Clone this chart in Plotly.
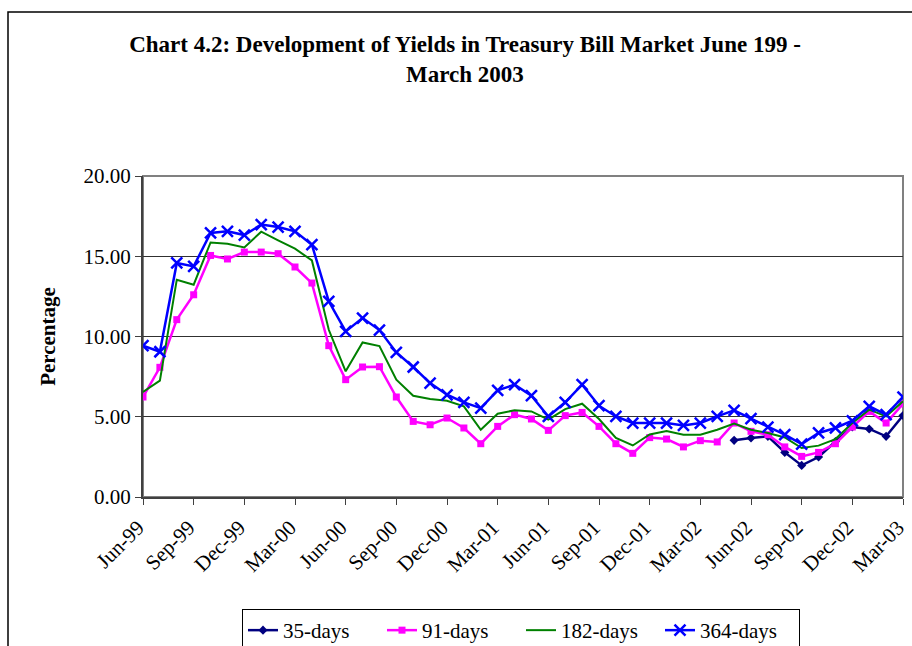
import plotly.graph_objects as go

months = ["Jun-99","Jul-99","Aug-99","Sep-99","Oct-99","Nov-99","Dec-99","Jan-00","Feb-00","Mar-00",
          "Apr-00","May-00","Jun-00","Jul-00","Aug-00","Sep-00","Oct-00","Nov-00","Dec-00","Jan-01",
          "Feb-01","Mar-01","Apr-01","May-01","Jun-01","Jul-01","Aug-01","Sep-01","Oct-01","Nov-01",
          "Dec-01","Jan-02","Feb-02","Mar-02","Apr-02","May-02","Jun-02","Jul-02","Aug-02","Sep-02",
          "Oct-02","Nov-02","Dec-02","Jan-03","Feb-03","Mar-03"]

tick_labels = ["Jun-99","Sep-99","Dec-99","Mar-00","Jun-00","Sep-00","Dec-00","Mar-01","Jun-01",
               "Sep-01","Dec-01","Mar-02","Jun-02","Sep-02","Dec-02","Mar-03"]

days35 = [None]*35 + [3.53, 3.68, 3.78, 2.78, 1.97, 2.49, 3.46, 4.36, 4.24, 3.78, 5.08]

days91 = [6.23, 8.08, 11.05, 12.6, 15.05, 14.83, 15.26, 15.26, 15.16, 14.33,
          13.33, 9.43, 7.31, 8.1, 8.12, 6.23, 4.71, 4.5, 4.92, 4.3,
          3.32, 4.4, 5.13, 4.86, 4.15, 5.07, 5.27, 4.4, 3.32, 2.72,
          3.7, 3.61, 3.12, 3.51, 3.43, 4.61, 4.09, 3.88, 3.12, 2.53,
          2.78, 3.32, 4.36, 5.33, 4.61, 5.81]

days182 = [6.54, 7.25, 13.54, 13.23, 15.86, 15.78, 15.55, 16.53, 15.99, 15.47,
           14.74, 10.42, 7.83, 9.63, 9.4, 7.31, 6.31, 6.1, 6.0, 5.65,
           4.19, 5.19, 5.4, 5.33, 4.82, 5.48, 5.81, 4.86, 3.68, 3.21,
           3.9, 4.11, 3.88, 3.88, 4.19, 4.57, 4.19, 3.99, 3.71, 3.05,
           3.2, 3.61, 4.61, 5.44, 5.02, 5.96]

days364 = [9.43, 9.05, 14.58, 14.37, 16.45, 16.55, 16.32, 16.97, 16.82, 16.55,
           15.72, 12.19, 10.32, 11.15, 10.4, 9.01, 8.1, 7.1, 6.37, 5.9,
           5.54, 6.64, 7.0, 6.31, 5.02, 5.9, 7.0, 5.69, 5.02, 4.61,
           4.61, 4.61, 4.46, 4.61, 5.02, 5.4, 4.88, 4.36, 3.88, 3.3,
           3.99, 4.3, 4.75, 5.65, 5.13, 6.23]

FONT = "Liberation Serif"

fig = go.Figure()
fig.add_trace(go.Scatter(x=months, y=days35, name="35-days", mode="lines+markers",
                         line=dict(color="#000080", width=2.5),
                         marker=dict(symbol="diamond", size=7, color="#000080")))
fig.add_trace(go.Scatter(x=months, y=days91, name="91-days", mode="lines+markers",
                         line=dict(color="#FF00FF", width=2.5),
                         marker=dict(symbol="square", size=7, color="#FF00FF")))
fig.add_trace(go.Scatter(x=months, y=days182, name="182-days", mode="lines",
                         line=dict(color="#008000", width=2)))
fig.add_trace(go.Scatter(x=months, y=days364, name="364-days", mode="lines+markers",
                         line=dict(color="#0000FF", width=2.5),
                         marker=dict(symbol="x-thin", size=11, color="#0000FF",
                                     line=dict(color="#0000FF", width=2.5))))

L, R, T, B = 143, 9, 176, 149
PW = 912 - L - R
PH = 646 - T - B

def px_x(p):
    return (p - L) / PW

def px_y(p):
    return (646 - B - p) / PH

fig.update_layout(
    width=912, height=646,
    margin=dict(l=L, r=R, t=T, b=B, autoexpand=False),
    paper_bgcolor="white", plot_bgcolor="white",
    font=dict(family=FONT, color="black", size=21),
    title=dict(text="<b>Chart 4.2: Development of Yields in Treasury Bill Market June 199 -<br>March 2003</b>",
               x=px_x(465), xref="paper", xanchor="center",
               y=1 - 52 / 646, yref="container", yanchor="top",
               font=dict(family=FONT, size=23, color="black")),
    xaxis=dict(type="category", range=[0, 45], tickmode="array", tickvals=tick_labels,
               ticktext=tick_labels, tickangle=-45, ticks="outside", ticklen=6,
               tickcolor="#404040", tickwidth=1, automargin=False,
               ticklabelshift=-5, ticklabelstandoff=2,
               showline=True, linecolor="#404040", linewidth=2, showgrid=False,
               tickfont=dict(family=FONT, size=21)),
    yaxis=dict(range=[0, 20], dtick=5, tickformat=".2f", ticks="outside", ticklen=6,
               tickcolor="#404040", tickwidth=1, automargin=False,
               showline=True, linecolor="#404040", linewidth=2,
               showgrid=True, gridcolor="#303030", gridwidth=1,
               zeroline=False,
               title=dict(text="<b>Percentage</b>", font=dict(family=FONT, size=21), standoff=22),
               tickfont=dict(family=FONT, size=21)),
    legend=dict(orientation="h", xref="container", yref="container",
                x=521 / 912, xanchor="center", y=1 - 609 / 646, yanchor="top",
                bordercolor="black", borderwidth=1, bgcolor="white",
                font=dict(family=FONT, size=21), entrywidth=94, tracegroupgap=0),
    showlegend=True,
)

# plot area frame (top/right)
fig.add_shape(type="rect", xref="paper", yref="paper", x0=0, x1=1, y0=0, y1=1,
              line=dict(color="#808080", width=2), layer="below")
# outer chart border
fig.add_shape(type="rect", xref="paper", yref="paper", x0=px_x(8), x1=px_x(940),
              y0=px_y(700), y1=px_y(12), line=dict(color="black", width=1.5), layer="below")

fig.write_html("out.html", config={"displayModeBar": False},
               post_script="document.body.style.margin='0';document.body.style.overflow='hidden';")
